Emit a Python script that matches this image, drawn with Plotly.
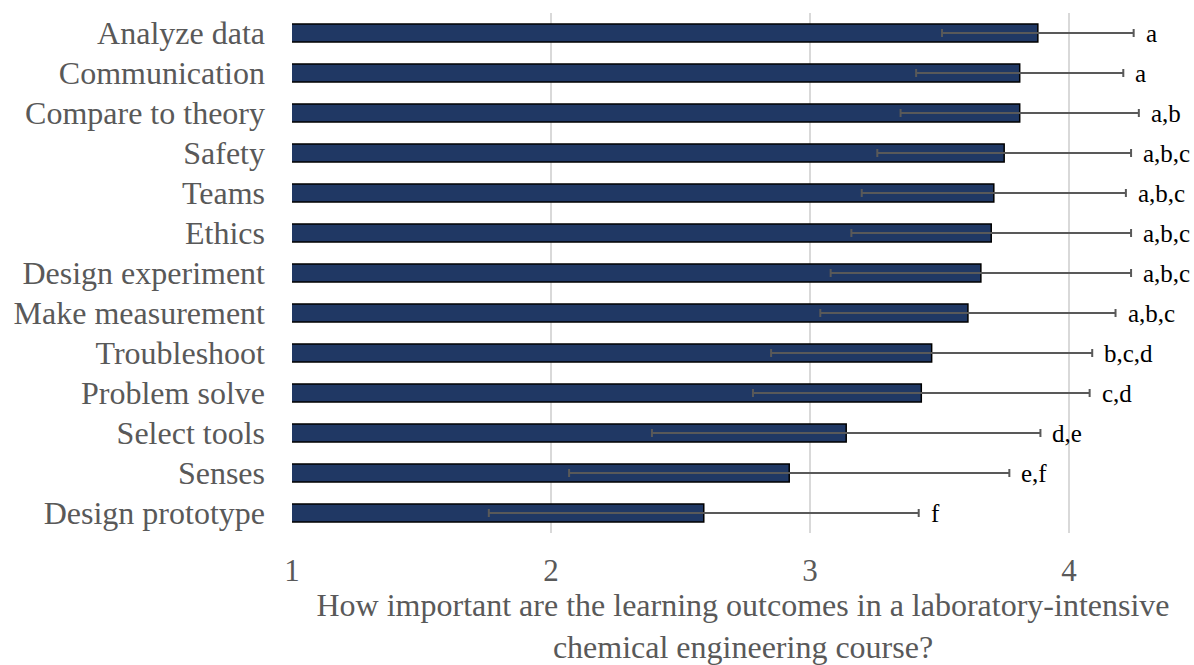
import plotly.graph_objects as go

categories = ["Analyze data", "Communication", "Compare to theory", "Safety", "Teams",
              "Ethics", "Design experiment", "Make measurement", "Troubleshoot",
              "Problem solve", "Select tools", "Senses", "Design prototype"]
means = [3.88, 3.81, 3.81, 3.75, 3.71, 3.70, 3.66, 3.61, 3.47, 3.43, 3.14, 2.92, 2.59]
sds = [0.37, 0.40, 0.46, 0.49, 0.51, 0.54, 0.58, 0.57, 0.62, 0.65, 0.75, 0.85, 0.83]
groups = ["a", "a", "a,b", "a,b,c", "a,b,c", "a,b,c", "a,b,c", "a,b,c",
          "b,c,d", "c,d", "d,e", "e,f", "f"]
x_ticks = [1, 2, 3, 4]
x_title = "How important are the learning outcomes in a laboratory-intensive<br>chemical engineering course?"

SERIF = "Liberation Serif, Times New Roman, serif"
GRAY = "#595959"

fig = go.Figure()
fig.add_trace(go.Bar(
    x=means, y=categories, orientation="h", base=0,
    marker=dict(color="#203864", line=dict(color="black", width=1.5)),
    error_x=dict(type="data", array=sds, visible=True, color=GRAY, thickness=2, width=4),
    showlegend=False,
))

for c, m, s, g in zip(categories, means, sds, groups):
    fig.add_annotation(x=m + s, y=c, text=g, showarrow=False, xanchor="left", yanchor="middle",
                       xshift=10, font=dict(family=SERIF, size=25, color="black"))

fig.update_layout(
    width=1194, height=665,
    margin=dict(l=292, r=0, t=13, b=132),
    paper_bgcolor="white", plot_bgcolor="white",
    bargap=0.55,
    font=dict(family=SERIF, color=GRAY),
)
fig.update_xaxes(
    range=[1, 4.483], tickvals=x_ticks, ticktext=[str(v) for v in x_ticks],
    showgrid=True, gridcolor="#d9d9d9", gridwidth=1.5, zeroline=False, showline=False,
    tickfont=dict(family=SERIF, size=31, color=GRAY), ticklabelstandoff=16,
    ticks="",
    title=dict(text=x_title, font=dict(family=SERIF, size=32, color=GRAY), standoff=10),
)
fig.update_yaxes(
    autorange="reversed", showgrid=False, showline=False, ticks="",
    tickfont=dict(family=SERIF, size=32, color=GRAY), ticklabelstandoff=26,
)

fig.write_html("out.html")
